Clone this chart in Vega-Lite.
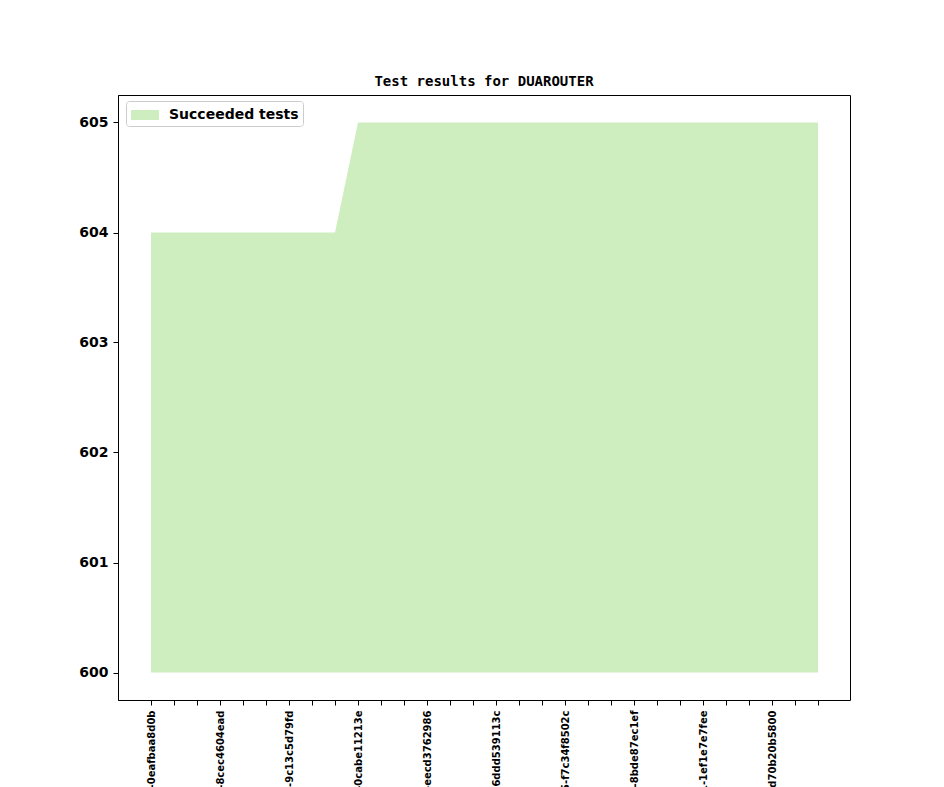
{
  "$schema": "https://vega.github.io/schema/vega-lite/v6.json",
  "autosize": {"type": "none"},
  "padding": {"left": 118, "top": 95, "right": 94, "bottom": 87},
  "width": 732,
  "height": 605,
  "background": "white",
  "title": {
    "text": "Test results for DUAROUTER",
    "font": "DejaVu Sans Mono",
    "fontSize": 14,
    "fontWeight": "bold",
    "color": "black",
    "anchor": "middle",
    "offset": 6
  },
  "config": {
    "view": {"stroke": "black", "strokeWidth": 1},
    "axis": {
      "grid": false,
      "domainColor": "black",
      "tickColor": "black",
      "labelColor": "black",
      "labelFont": "DejaVu Sans",
      "labelFontWeight": "bold",
      "tickSize": 5,
      "title": null
    }
  },
  "data": {
    "values": [
      {"commit": "v1_9_2+0101-0eafbaa8d0b", "succeeded": 604},
      {"commit": "v1_9_2+0102-3a1c9e07b42", "succeeded": 604},
      {"commit": "v1_9_2+0103-b57d20f6c9a", "succeeded": 604},
      {"commit": "v1_9_2+0104-8cec4604ead", "succeeded": 604},
      {"commit": "v1_9_2+0105-41e6aa93d07", "succeeded": 604},
      {"commit": "v1_9_2+0106-c2f8b51e6d3", "succeeded": 604},
      {"commit": "v1_9_2+0107-9c13c5d79fd", "succeeded": 604},
      {"commit": "v1_9_2+0108-5e90d7b3a18", "succeeded": 604},
      {"commit": "v1_9_2+0109-a7b42c6f0e5", "succeeded": 604},
      {"commit": "v1_9_2+0110-0cabe11213e", "succeeded": 605},
      {"commit": "v1_9_2+0111-d38f1a7c2b9", "succeeded": 605},
      {"commit": "v1_9_2+0112-6b0e4d9f51a", "succeeded": 605},
      {"commit": "v1_9_2+0113-eecd3762986", "succeeded": 605},
      {"commit": "v1_9_2+0114-2f7a8c1d0e4", "succeeded": 605},
      {"commit": "v1_9_2+0115-91c5b3e6f27", "succeeded": 605},
      {"commit": "v1_9_2+0116-6ddd539113c", "succeeded": 605},
      {"commit": "v1_9_2+0117-7d2e0b4a9c6", "succeeded": 605},
      {"commit": "v1_9_2+0118-e4a19f3c8b0", "succeeded": 605},
      {"commit": "v1_9_2+0125-f7c34f8502c", "succeeded": 605},
      {"commit": "v1_9_2+0126-03b8d6e2a71", "succeeded": 605},
      {"commit": "v1_9_2+0127-c6f1a04e9d8", "succeeded": 605},
      {"commit": "v1_9_2+0128-8bde87ec1ef", "succeeded": 605},
      {"commit": "v1_9_2+0129-4a7c3e2b05f", "succeeded": 605},
      {"commit": "v1_9_2+0130-b91d6f08c3e", "succeeded": 605},
      {"commit": "v1_9_2+0131-1ef1e7e7fee", "succeeded": 605},
      {"commit": "v1_9_2+0132-5c0a9b7e3d2", "succeeded": 605},
      {"commit": "v1_9_2+0133-f28e4c1b6a9", "succeeded": 605},
      {"commit": "v1_9_2+0134-d70b20b5800", "succeeded": 605},
      {"commit": "v1_9_2+0135-7e3f5a9c1b4", "succeeded": 605},
      {"commit": "v1_9_2+0136-29d4b0e8f6c", "succeeded": 605}
    ]
  },
  "mark": {"type": "area", "opacity": 1},
  "encoding": {
    "x": {
      "field": "commit",
      "type": "ordinal",
      "sort": null,
      "scale": {"padding": 0, "range": [33, 700]},
      "axis": {
        "labelAngle": 270,
        "labelFontSize": 10,
        "labelPadding": 5,
        "labelOverlap": false,
        "labelBound": false,
        "labelExpr": "round(datum.index * 29) % 3 == 0 ? datum.label : ''"
      }
    },
    "y": {
      "field": "succeeded",
      "type": "quantitative",
      "scale": {"domain": [599.75, 605.25], "nice": false, "zero": false},
      "axis": {"values": [600, 601, 602, 603, 604, 605], "labelFontSize": 14, "labelPadding": 5}
    },
    "y2": {"datum": 600},
    "color": {
      "datum": "Succeeded tests",
      "type": "nominal",
      "scale": {"range": ["#cfeebf"]},
      "legend": {
        "title": null,
        "orient": "none",
        "legendX": 8,
        "legendY": 6,
        "symbolType": "M-1.4,-0.5H1.4V0.5H-1.4Z",
        "symbolSize": 400,
        "symbolStrokeWidth": 0,
        "symbolOpacity": 1,
        "symbolOffset": 5,
        "labelOffset": 14,
        "labelFont": "DejaVu Sans",
        "labelFontSize": 14,
        "labelFontWeight": "bold",
        "labelColor": "black",
        "padding": 4,
        "strokeColor": "#cccccc",
        "fillColor": "rgba(255,255,255,0.8)",
        "cornerRadius": 3
      }
    }
  }
}
